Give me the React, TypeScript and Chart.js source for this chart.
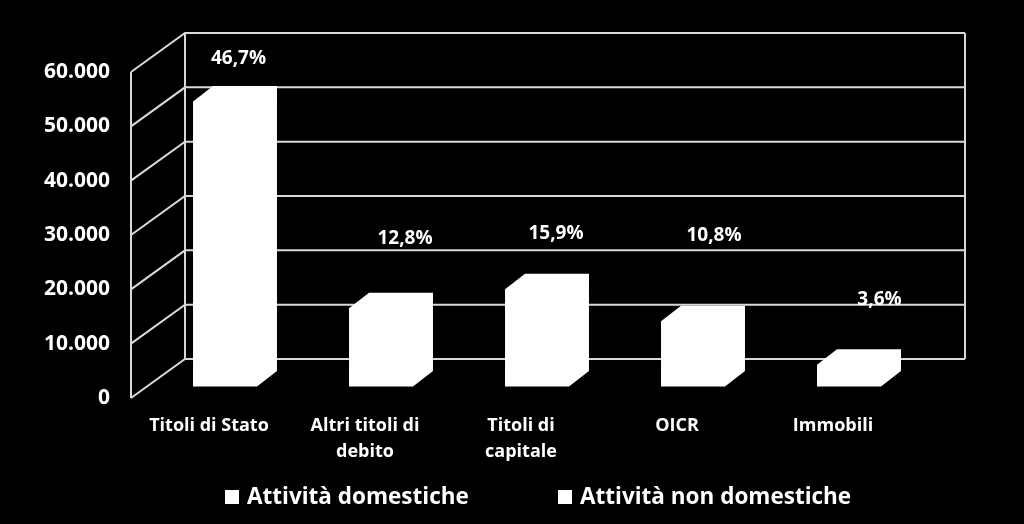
import React, { useEffect, useRef } from "react";
import { Chart, registerables } from "chart.js";

Chart.register(...registerables);

const categories: string[][] = [
  ["Titoli di Stato"],
  ["Altri titoli di", "debito"],
  ["Titoli di", "capitale"],
  ["OICR"],
  ["Immobili"],
];
const domestiche: (number | null)[] = [52450, 14400, 17900, 12000, 4000];
const nonDomestiche: (number | null)[] = [null, null, null, null, null];
const percentLabels: string[] = ["46,7%", "12,8%", "15,9%", "10,8%", "3,6%"];
const seriesNames: string[] = ["Attività domestiche", "Attività non domestiche"];
const yMin = 0;
const yMax = 60000;
const yStep = 10000;

const FONT = "'Open Sans', 'DejaVu Sans', sans-serif";

const fmt = (v: number) => String(v).replace(/\B(?=(\d{3})+(?!\d))/g, ".");

const threeD = {
  id: "threeD",
  beforeDatasetsDraw(chart: any, _args: any, opts: any) {
    const { ctx, chartArea: ca } = chart;
    const y = chart.scales.y;
    const d = opts.depth;
    ctx.save();
    ctx.strokeStyle = opts.gridColor;
    ctx.lineWidth = opts.gridWidth;
    ctx.beginPath();
    ctx.moveTo(ca.left, ca.top);
    ctx.lineTo(ca.left, ca.bottom);
    ctx.moveTo(ca.left + d.x, ca.top + d.y);
    ctx.lineTo(ca.left + d.x, ca.bottom + d.y);
    ctx.moveTo(ca.right + d.x, ca.top + d.y);
    ctx.lineTo(ca.right + d.x, ca.bottom + d.y);
    for (const t of y.ticks) {
      const py = y.getPixelForValue(t.value);
      ctx.moveTo(ca.left, py);
      ctx.lineTo(ca.left + d.x, py + d.y);
      ctx.lineTo(ca.right + d.x, py + d.y);
    }
    ctx.stroke();
    ctx.restore();
  },
  beforeDatasetDraw() {
    return false;
  },
  afterDatasetsDraw(chart: any, _args: any, opts: any) {
    const { ctx } = chart;
    const f = opts.barFront;
    const b = opts.barBack;
    const rx = b.x - f.x;
    const ry = b.y - f.y;
    ctx.save();
    chart.data.datasets.forEach((ds: any, di: number) => {
      const meta = chart.getDatasetMeta(di);
      if (meta.hidden) return;
      meta.data.forEach((el: any, i: number) => {
        const v = ds.data[i];
        if (v === null || v === undefined) return;
        const p = el.getProps(["x", "y", "base", "width"], true);
        const fl = p.x - p.width / 2 + f.x;
        const fr = p.x + p.width / 2 + f.x;
        const ft = p.y + f.y;
        const fb = p.base + f.y;
        ctx.fillStyle = ds.backgroundColor;
        ctx.beginPath();
        ctx.moveTo(fl, fb);
        ctx.lineTo(fl, ft);
        ctx.lineTo(fl + rx, ft + ry);
        ctx.lineTo(fr + rx, ft + ry);
        ctx.lineTo(fr + rx, fb + ry);
        ctx.lineTo(fr, fb);
        ctx.closePath();
        ctx.fill();
        if (di === 0) {
          const lab = opts.labels[i];
          const off = opts.labelOffsets[i];
          ctx.fillStyle = opts.labelColor;
          ctx.font = opts.labelFont;
          ctx.textAlign = "center";
          ctx.textBaseline = "middle";
          ctx.fillText(lab, p.x + b.x + off[0], p.y + b.y + off[1]);
        }
      });
    });
    ctx.restore();
  },
  afterDraw(chart: any, _args: any, opts: any) {
    const { ctx } = chart;
    const lg = opts.legend;
    ctx.save();
    ctx.font = lg.font;
    ctx.textAlign = "left";
    ctx.textBaseline = "middle";
    chart.data.datasets.forEach((ds: any, i: number) => {
      const bx = lg.x[i];
      ctx.fillStyle = ds.backgroundColor;
      ctx.fillRect(bx, lg.y - lg.box / 2, lg.box, lg.box);
      ctx.fillStyle = lg.color;
      ctx.fillText(ds.label, bx + lg.box + lg.gap, lg.y + 1);
    });
    ctx.restore();
  },
};

export default function App() {
  const ref = useRef<HTMLCanvasElement | null>(null);
  useEffect(() => {
    document.body.style.margin = "0";
    document.body.style.background = "#000";
    const canvas = ref.current;
    if (!canvas) return;
    const chart = new Chart(canvas, {
      type: "bar",
      data: {
        labels: categories,
        datasets: [
          {
            label: seriesNames[0],
            data: domestiche,
            backgroundColor: "#ffffff",
            grouped: false,
            barPercentage: 0.41,
            categoryPercentage: 1,
          },
          {
            label: seriesNames[1],
            data: nonDomestiche,
            backgroundColor: "#ffffff",
            grouped: false,
            barPercentage: 0.41,
            categoryPercentage: 1,
          },
        ],
      } as any,
      options: {
        animation: false,
        responsive: false,
        devicePixelRatio: 1,
        layout: { padding: { top: 72, right: 113, left: 0, bottom: 0 } },
        plugins: {
          legend: { display: false },
          tooltip: { enabled: false },
          threeD: {
            depth: { x: 54, y: -39 },
            gridColor: "#d9d9d9",
            gridWidth: 2,
            barFront: { x: 16, y: -11.5 },
            barBack: { x: 36, y: -27 },
            labels: percentLabels,
            labelOffsets: [
              [-6.5, -27],
              [4, -54],
              [-1, -40],
              [1, -70],
              [10.5, -50],
            ],
            labelColor: "#ffffff",
            labelFont: `bold 19px ${FONT}`,
            legend: {
              x: [225, 558],
              y: 497,
              box: 14,
              gap: 8,
              font: `bold 22.5px ${FONT}`,
              color: "#ffffff",
            },
          },
        } as any,
        scales: {
          x: {
            grid: { display: false, drawTicks: false },
            border: { display: false },
            ticks: {
              color: "#ffffff",
              font: { family: FONT, size: 18, weight: "bold", lineHeight: 1.45 },
              padding: 15,
              maxRotation: 0,
              autoSkip: false,
            },
            afterFit(scale: any) {
              scale.height = 126;
            },
          },
          y: {
            min: yMin,
            max: yMax,
            grid: { display: false, drawTicks: false },
            border: { display: false },
            ticks: {
              stepSize: yStep,
              color: "#ffffff",
              font: { family: FONT, size: 21, weight: "bold" },
              padding: 21,
              callback: (v: any) => fmt(Number(v)),
            },
            afterFit(scale: any) {
              scale.width = 131;
            },
          },
        },
      },
      plugins: [threeD as any],
    });
    return () => chart.destroy();
  }, []);
  return (
    <div style={{ position: "fixed", left: 0, top: 0, width: 1024, height: 524, background: "#000" }}>
      <canvas ref={ref} width={1024} height={524} style={{ display: "block" }} />
    </div>
  );
}
